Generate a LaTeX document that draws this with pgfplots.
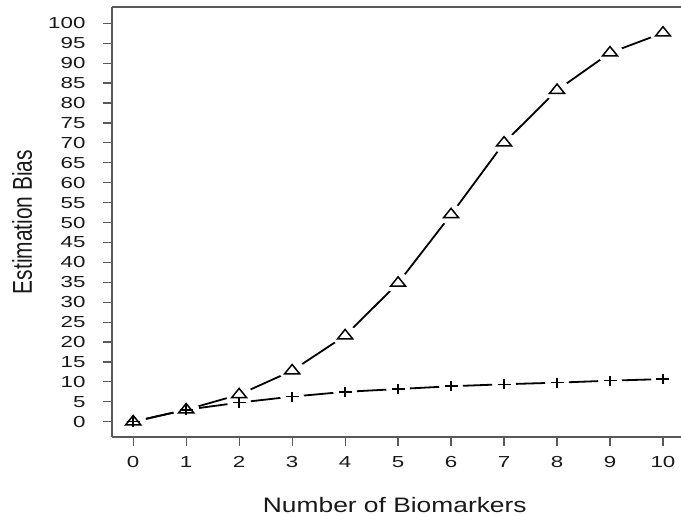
\documentclass[border=0pt]{standalone}
\usepackage{fontspec}
\setmainfont{Liberation Sans}
\usepackage{pgfplots}
\pgfplotsset{compat=1.18}

\pgfplotstableread{
x y
0 0.0
1 3.0
2 6.8
3 12.8
4 21.6
5 34.8
6 52.0
7 70.0
8 83.2
9 92.6
10 97.6
}\tri

\pgfplotstableread{
x y
0 0.0
1 3.0
2 4.8
3 6.3
4 7.5
5 8.2
6 8.9
7 9.4
8 9.8
9 10.3
10 10.7
}\cross

\begin{document}
\begin{tikzpicture}
\useasboundingbox (0,0) rectangle (681bp,516bp);
\begin{axis}[
  at={(112bp,79bp)}, anchor=south west,
  scale only axis, width=569bp, height=430bp,
  xmin=-0.4, xmax=10.34, ymin=-3.84, ymax=104.1,
  axis lines*=left,
  axis line style={-, draw=black!65, line width=1.2bp},
  xtick={0,...,10}, ytick={0,5,...,100},
  tick align=outside, major tick length=9bp,
  tick style={draw=black!65, line width=1.2bp},
  /pgf/number format/assume math mode=true,
  tick label style={font=\fontsize{16}{16}\selectfont, xscale=1.4, text=black!90},
  xticklabel style={yshift=-7bp},
  yticklabel style={xshift=-9bp},
  xlabel={Number of Biomarkers},
  ylabel={Estimation Bias},
  xlabel style={at={(axis description cs:0.497,-0.158)}, anchor=center,
    font=\fontsize{21}{21}\selectfont, xscale=1.26, text=black!90},
  ylabel style={at={(axis description cs:-0.158,0.5)}, anchor=center,
    font=\fontsize{21}{21}\selectfont, yscale=1.3, text=black!90},
  clip=false,
]
\addplot[black, line width=1.8bp] table {\tri};
\addplot[black, line width=1.8bp] table {\cross};
\addplot[only marks, mark=*, mark size=10bp, mark options={xscale=1.3, draw=white, fill=white}] table {\tri};
\addplot[only marks, mark=*, mark size=9bp, mark options={xscale=1.3, draw=white, fill=white}] table {\cross};
\addplot[only marks, mark=triangle, mark size=6.2bp, mark options={xscale=1.4, line width=1.5bp, draw=black}] table {\tri};
\addplot[only marks, mark=+, mark size=5bp, mark options={xscale=1.3, line width=1.5bp, draw=black}] table {\cross};
\draw[draw=black!65, line width=1.2bp] (rel axis cs:0,1) -- (rel axis cs:1,1);
\end{axis}
\end{tikzpicture}
\end{document}
